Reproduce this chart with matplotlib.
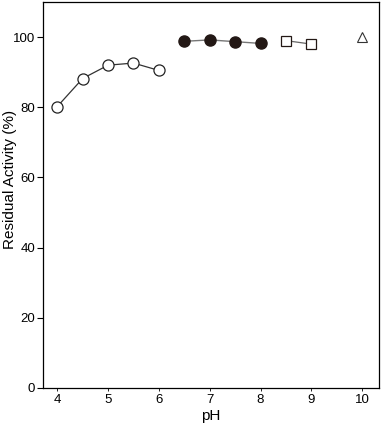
import matplotlib.pyplot as plt

plt.rcParams['font.family'] = ['Liberation Sans', 'DejaVu Sans']

# open circles
ph_a = [4.0, 4.5, 5.0, 5.5, 6.0]
act_a = [80.2, 88.2, 92.0, 92.6, 90.5]
# filled circles
ph_b = [6.5, 7.0, 7.5, 8.0]
act_b = [98.8, 99.2, 98.7, 98.2]
# open squares
ph_c = [8.5, 9.0]
act_c = [99.0, 98.0]
# triangle
ph_d = [10.0]
act_d = [100.0]

fig = plt.figure(figsize=(3.82, 4.29), dpi=100)
ax = fig.add_axes([0.1126, 0.0956, 0.8795, 0.8997])

ax.plot(ph_a, act_a, '-o', color='#333333', lw=0.9, ms=8,
        mfc='white', mec='#222222', mew=0.9)
ax.plot(ph_b, act_b, '-o', color='#777777', lw=1.0, ms=8,
        mfc='#231815', mec='#231815')
ax.plot(ph_c, act_c, '-s', color='#666666', lw=0.9, ms=7,
        mfc='white', mec='#231815', mew=0.9)
ax.plot(ph_d, act_d, '^', ms=7, mfc='white', mec='#333333', mew=0.8)

ax.set_xlim(3.72, 10.33)
ax.set_ylim(0, 110)
ax.set_xticks(range(4, 11))
ax.set_yticks(range(0, 101, 20))
ax.tick_params(axis='x', labelsize=9.5, length=2, width=0.6, pad=2.5)
ax.tick_params(axis='y', labelsize=9.5, length=4, width=0.8, pad=1.5)
for s in ax.spines.values():
    s.set_linewidth(0.9)

ax.set_xlabel('pH', fontsize=11, labelpad=2)
ax.set_ylabel('Residual Activity (%)', fontsize=11)
ax.yaxis.set_label_coords(-0.077, 0.54)

fig.savefig('out.png', dpi=100)
